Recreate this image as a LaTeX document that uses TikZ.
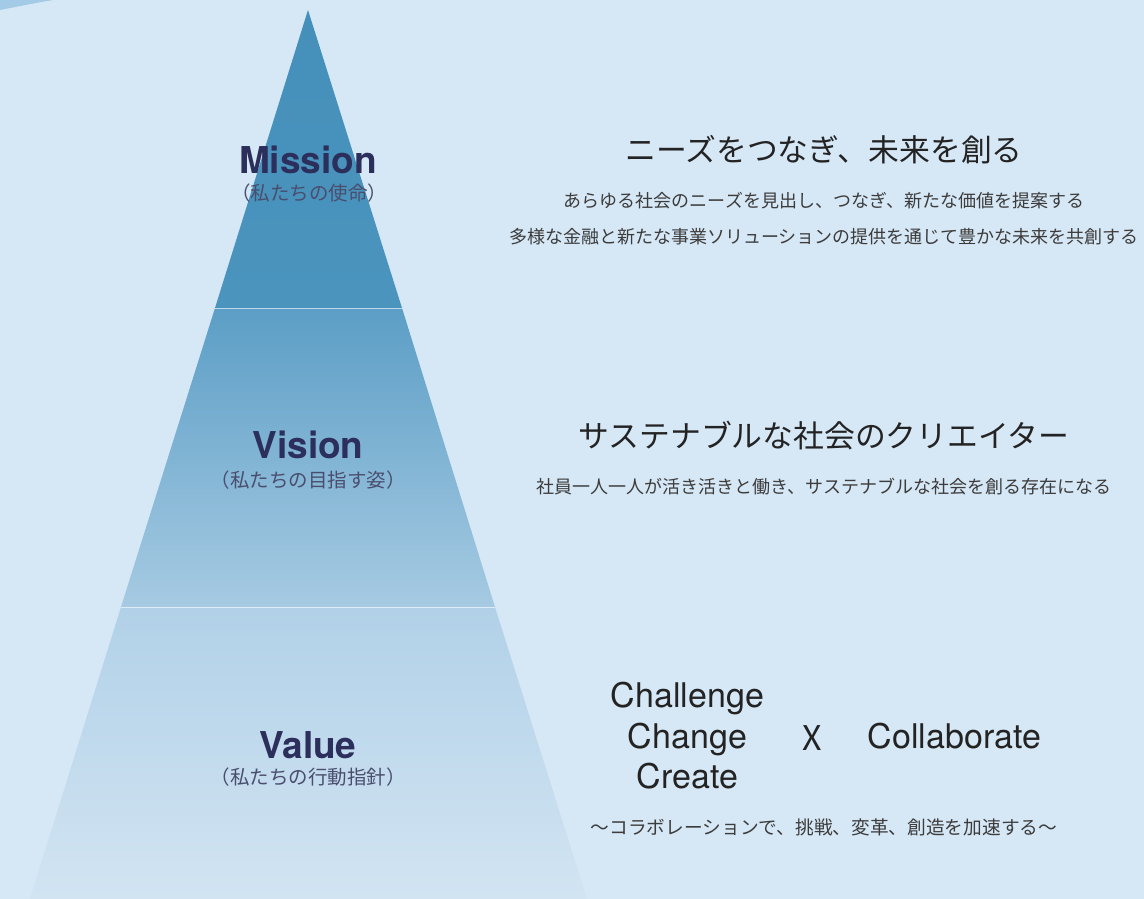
\documentclass[tikz,border=0pt]{standalone}
\usepackage{fontspec}
\setmainfont{TeX Gyre Heros}
\newfontfamily\jp{Noto Sans CJK JP}
\definecolor{bg}{HTML}{D6E7F5}
\definecolor{cornerc}{HTML}{A3CAE6}
\definecolor{mtop}{HTML}{4590BA}
\definecolor{mbot}{HTML}{4A94BE}
\definecolor{vtop}{HTML}{5C9EC6}
\definecolor{vbot}{HTML}{A6CAE2}
\definecolor{ltop}{HTML}{B1D1E8}
\definecolor{lbot}{HTML}{D2E4F2}
\definecolor{titlec}{HTML}{2C2E5B}
\definecolor{subc}{HTML}{4A4E6E}
\definecolor{headc}{HTML}{232323}
\definecolor{bodyc}{HTML}{3C3C3C}
\tikzset{
  title/.style={font=\fontsize{37}{40}\selectfont\bfseries, text=titlec, inner sep=0, anchor=base},
  subt/.style={font=\jp\fontsize{19.5}{22}\selectfont, text=subc, inner sep=0},
  head/.style={font=\jp\fontsize{30.8}{36}\selectfont, text=headc, inner sep=0},
  body/.style={font=\jp\fontsize{18}{22}\selectfont, text=bodyc, inner sep=0},
  latin/.style={font=\fontsize{34}{38}\selectfont, text=headc, inner sep=0, anchor=base},
  sep/.style={draw=white, draw opacity=0.6, line width=1pt}
}
\begin{document}
\begin{tikzpicture}[x=1pt,y=-1pt]
\useasboundingbox (0,0) rectangle (1144,899);
\fill[bg] (0,0) rectangle (1144,899);
\fill[cornerc] (0,0) -- (0,10) .. controls (18,6.5) and (35,3) .. (53,0) -- cycle;
% pyramid
\coordinate (apex) at (308,10);
\coordinate (m1) at (215,308);
\coordinate (m2) at (402,308);
\coordinate (v1) at (121,607);
\coordinate (v2) at (495,607);
\coordinate (b1) at (30,899);
\coordinate (b2) at (587,899);
\shade[top color=mtop, bottom color=mbot] (apex) -- (m2) -- (m1) -- cycle;
\shade[top color=vtop, bottom color=vbot] (m1) -- (m2) -- (v2) -- (v1) -- cycle;
\shade[top color=ltop, bottom color=lbot] (v1) -- (v2) -- (b2) -- (b1) -- cycle;
\draw[sep] (m1) -- (m2);
\draw[sep] (v1) -- (v2);
% labels
\node[title] (mission) at (308,173) {Mission};
\node[subt] (missionsub) at (309,193) {（私たちの使命）};
\node[title] (vision) at (308,458) {Vision};
\node[subt] (visionsub) at (308,480) {（私たちの目指す姿）};
\node[title] (value) at (308,758) {Value};
\node[subt] (valuesub) at (308,777) {（私たちの行動指針）};
% mission text
\node[head] (mhead) at (824,150) {ニーズをつなぎ、未来を創る};
\node[body] (mb1) at (824,201) {あらゆる社会のニーズを見出し、つなぎ、新たな価値を提案する};
\node[body] (mb2) at (824,237) {多様な金融と新たな事業ソリューションの提供を通じて豊かな未来を共創する};
% vision text
\node[head] (vhead) at (824,436) {サステナブルな社会のクリエイター};
\node[body] (vb1) at (824,487) {社員一人一人が活き活きと働き、サステナブルな社会を創る存在になる};
% value text
\node[latin] (challenge) at (687.5,707) {Challenge};
\node[latin] (change) at (687.5,748) {Change};
\node[latin] (create) at (687.5,788) {Create};
\node[font=\jp\fontsize{34}{40}\selectfont, text=headc, inner sep=0, anchor=base] (times) at (812,750) {X};
\node[latin] (collab) at (954.5,748) {Collaborate};
\node[body, font=\jp\fontsize{18.7}{22}\selectfont] (lb1) at (824,827) {～コラボレーションで、挑戦、変革、創造を加速する～};
\end{tikzpicture}
\end{document}
